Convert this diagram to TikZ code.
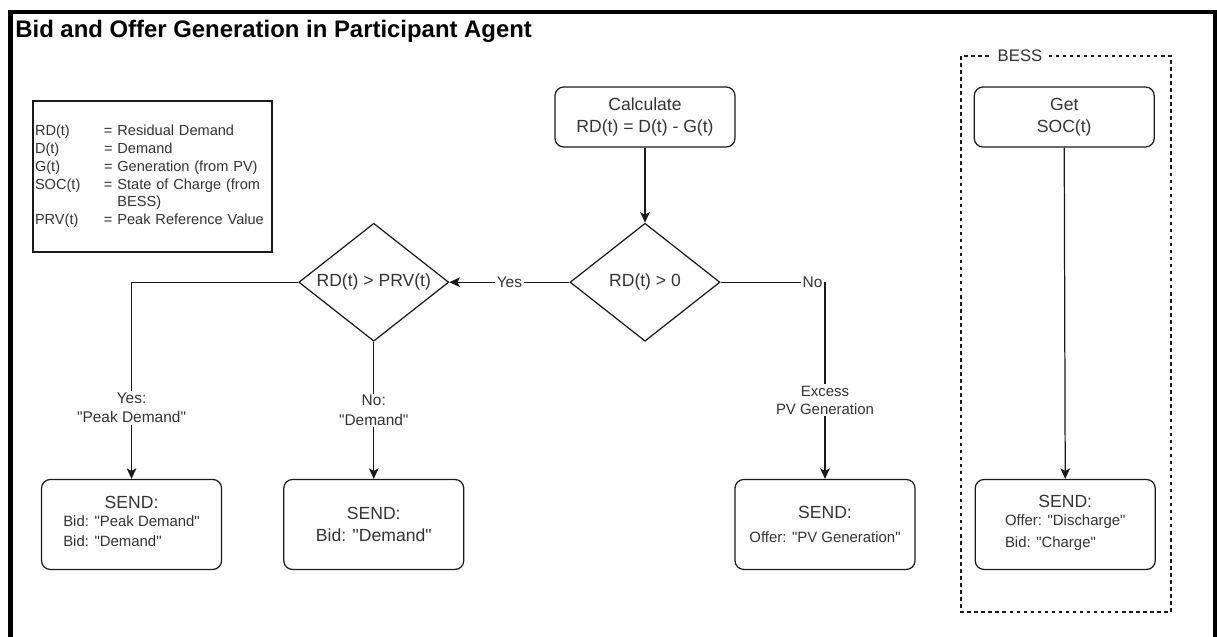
\documentclass[tikz,border=0pt]{standalone}
\usepackage{fontspec}
\setmainfont{Liberation Sans}
\usetikzlibrary{arrows.meta, positioning, shapes.geometric}
\definecolor{ink}{HTML}{333333}
\definecolor{lineclr}{HTML}{1A1A1A}
\newcommand{\subline}{\fontsize{8.5}{11.3}\selectfont}
\newcommand{\qt}[1]{\textquotedbl#1\textquotedbl}

\begin{document}
\begin{tikzpicture}[
  node distance=1.5cm,
  box/.style={draw=lineclr, line width=0.7pt, rounded corners=5pt, text=ink,
              minimum width=3.6cm, minimum height=1.2cm, align=center,
              font=\fontsize{10}{12.5}\selectfont},
  sendbox/.style={box, minimum height=1.8cm},
  decision/.style={draw=lineclr, line width=0.7pt, diamond, aspect=1.27, inner sep=0pt,
              minimum width=3cm, minimum height=2.36cm, text=ink,
              font=\fontsize{10}{12}\selectfont},
  legendbox/.style={draw=lineclr, line width=0.6pt, text=ink, text width=4.7cm,
              inner xsep=0.04cm, minimum height=3.02cm, align=left,
              font=\fontsize{8.3}{10.2}\selectfont},
  lab/.style={fill=white, text=ink, inner sep=1pt, align=center,
              font=\fontsize{8.8}{11}\selectfont},
  grp/.style={draw=lineclr, line width=0.6pt, dash pattern=on 2pt off 2pt},
  arr/.style={draw=lineclr, line width=0.7pt, -{Stealth[length=6pt, width=5.5pt, inset=1.5pt]}}
]
  \useasboundingbox (0,0) rectangle (24.34,-12.72);
  \clip (0,0) rectangle (24.34,-12.72);

  % Frame and title
  \draw[line width=2.3pt, black] (0.21,-13) -- (0.21,-0.24) -- (24.3,-0.24) -- (24.3,-13);
  \node[anchor=base west, inner sep=0pt, font=\fontsize{13.6}{16}\selectfont\bfseries]
    (title) at (0.3,-0.75) {Bid and Offer Generation in Participant Agent};

  % Legend
  \node[legendbox] (legend) at (3.05,-3.53) {%
    \begin{tabular}{@{}p{1.38cm}@{}l@{}}
      RD(t)  & = Residual Demand\\
      D(t)   & = Demand\\
      G(t)   & = Generation (from PV)\\
      SOC(t) & = State of Charge (from\\
             & \phantom{= }BESS)\\
      PRV(t) & = Peak Reference Value
    \end{tabular}};

  % Decisions
  \node[box] (calc) at (12.9,-2.34) {Calculate\\RD(t) = D(t) - G(t)};
  \node[decision, below=1.5cm of calc] (rdpos) {RD(t) > 0};
  \node[decision, left=2.4cm of rdpos] (prv) {RD(t) > PRV(t)};

  % Send boxes
  \node[sendbox, below=2.74cm of prv] (send2) {SEND:\\Bid: \qt{Demand}};
  \node[sendbox, left=1.22cm of send2] (send1) {SEND:\\[1pt]{\subline
    \begin{tabular}{@{}l@{}}Bid: \qt{Peak Demand}\\Bid: \qt{Demand}\end{tabular}}};
  \node[sendbox, right=5.4cm of send2] (send3) {SEND:\\[1pt]{\subline Offer: \qt{PV Generation}}};
  \node[sendbox, right=1.18cm of send3] (send4) {SEND:\\[1pt]{\subline
    \begin{tabular}{@{}l@{}}Offer: \qt{Discharge}\\[1.5pt]Bid: \qt{Charge}\end{tabular}}};

  % BESS
  \node[box, right=4.76cm of calc] (soc) {Get\\SOC(t)};
  \draw[grp] (19.22,-1.12) rectangle (23.42,-12.24);
  \node[lab, font=\fontsize{9.5}{11}\selectfont, inner xsep=3pt] (besslab) at (20.4,-1.12) {BESS};

  % Arrows
  \draw[arr] (calc.south) -- (rdpos.north);
  \draw[arr] (rdpos.west) -- node[lab] {Yes} (prv.east);
  \draw[arr] (prv.west) -| node[lab, pos=0.82] {Yes:\\\qt{Peak Demand}} (send1.north);
  \draw[arr] (prv.south) -- node[lab] {No:\\\qt{Demand}} (send2.north);
  \draw[arr] (rdpos.east) -| node[lab, pos=0.44] {No}
    node[lab, pos=0.8, font=\fontsize{8.5}{10.2}\selectfont] {Excess\\PV Generation} (send3.north);
  \draw[arr] (soc.south) -- (send4.north);
\end{tikzpicture}
\end{document}
